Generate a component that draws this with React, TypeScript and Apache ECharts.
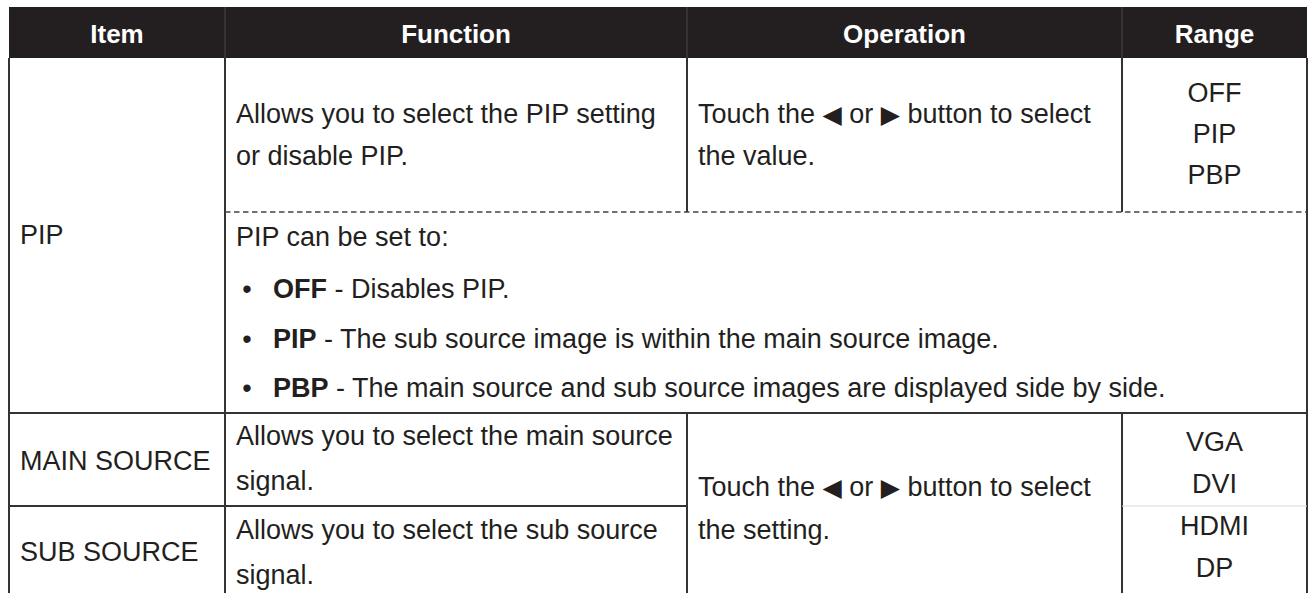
import React, { useEffect, useRef } from "react";
import * as echarts from "echarts";

// ---- content ----
const HEADERS = ["Item", "Function", "Operation", "Range"];
const ITEMS = ["PIP", "MAIN SOURCE", "SUB SOURCE"];
const PIP_FUNCTION = ["Allows you to select the PIP setting", "or disable PIP."];
const PIP_OPERATION = ["Touch the {t|◀} or {t|▶} button to select", "the value."];
const PIP_RANGE = ["OFF", "PIP", "PBP"];
const PIP_NOTE = "PIP can be set to:";
const PIP_OPTION_LABELS = ["OFF", "PIP", "PBP"];
const PIP_OPTION_TEXTS = [
  "Disables PIP.",
  "The sub source image is within the main source image.",
  "The main source and sub source images are displayed side by side.",
];
const MAIN_FUNCTION = ["Allows you to select the main source", "signal."];
const SUB_FUNCTION = ["Allows you to select the sub source", "signal."];
const SOURCE_OPERATION = ["Touch the {t|◀} or {t|▶} button to select", "the setting."];
const SOURCE_RANGE = ["VGA", "DVI", "HDMI", "DP"];

// ---- layout ----
const COLS = [9, 225, 687, 1122, 1307];
const HEAD_TOP = 7;
const HEAD_BOT = 58;
const DASH_Y = 212;
const ROW2_Y = 413;
const ROW3_Y = 506;
const BOTTOM = 600;
const FONT = '"Liberation Sans", Arial, Helvetica, sans-serif';
const FS = 27;
const INK = "#231f20";
const LINE = "#333";

function txt(x: number, y: number, text: string, align = "left", extra: any = {}) {
  return {
    type: "text",
    x,
    y,
    style: {
      text,
      fill: INK,
      fontSize: FS,
      fontFamily: FONT,
      align,
      verticalAlign: "middle",
      rich: {
        t: { fontSize: 25, fontFamily: '"DejaVu Sans", sans-serif', fill: INK },
        b: { fontSize: FS, fontFamily: FONT, fontWeight: "bold", fill: INK },
      },
      ...extra,
    },
  };
}

function line(x1: number, y1: number, x2: number, y2: number, style: any = {}) {
  return {
    type: "line",
    shape: { x1, y1, x2, y2 },
    style: { stroke: LINE, lineWidth: 2, ...style },
  };
}

export default function App() {
  const ref = useRef<HTMLDivElement>(null);
  useEffect(() => {
    if (!ref.current) return;
    const chart = echarts.init(ref.current, null, { renderer: "svg" });
    const els: any[] = [];

    // header
    els.push({
      type: "rect",
      shape: { x: COLS[0], y: HEAD_TOP, width: COLS[4] - COLS[0], height: HEAD_BOT - HEAD_TOP },
      style: { fill: INK },
    });
    for (let i = 1; i < 4; i++) {
      els.push(line(COLS[i], HEAD_TOP, COLS[i], HEAD_BOT, { stroke: "#4a4647", lineWidth: 1 }));
    }
    HEADERS.forEach((h, i) => {
      els.push(
        txt((COLS[i] + COLS[i + 1]) / 2, (HEAD_TOP + HEAD_BOT) / 2 + 1, h, "center", {
          fill: "#ffffff",
          fontWeight: "bold",
          fontSize: 26,
        })
      );
    });

    // grid lines
    els.push(line(COLS[0], HEAD_BOT, COLS[0], BOTTOM));
    els.push(line(COLS[1], HEAD_BOT, COLS[1], BOTTOM));
    els.push(line(COLS[2], HEAD_BOT, COLS[2], DASH_Y));
    els.push(line(COLS[3], HEAD_BOT, COLS[3], DASH_Y));
    els.push(line(COLS[2], ROW2_Y, COLS[2], BOTTOM));
    els.push(line(COLS[3], ROW2_Y, COLS[3], BOTTOM));
    els.push(line(COLS[4], HEAD_BOT, COLS[4], BOTTOM));
    els.push(line(COLS[1], DASH_Y, COLS[4], DASH_Y, { stroke: "#444", lineWidth: 1.3, lineDash: [5.5, 3.5] }));
    els.push(line(COLS[0], ROW2_Y, COLS[4], ROW2_Y));
    els.push(line(COLS[0], ROW3_Y, COLS[2], ROW3_Y));
    els.push(line(COLS[3], ROW3_Y, COLS[4], ROW3_Y, { stroke: "#d8d8d8", lineWidth: 1 }));

    // PIP row (top)
    els.push(txt(20, 235, ITEMS[0]));
    PIP_FUNCTION.forEach((s, i) => els.push(txt(236, 114 + i * 42, s)));
    PIP_OPERATION.forEach((s, i) => els.push(txt(698, 114 + i * 42, s)));
    PIP_RANGE.forEach((s, i) => els.push(txt((COLS[3] + COLS[4]) / 2, 93 + i * 41, s, "center")));

    // PIP note + bullets
    els.push(txt(236, 237, PIP_NOTE));
    PIP_OPTION_LABELS.forEach((lab, i) => {
      const y = 289 + i * 49.5;
      els.push(txt(247, y, "•", "center"));
      els.push(txt(273, y, "{b|" + lab + "} - " + PIP_OPTION_TEXTS[i]));
    });

    // MAIN / SUB SOURCE
    els.push(txt(20, 461, ITEMS[1]));
    els.push(txt(20, 552, ITEMS[2]));
    MAIN_FUNCTION.forEach((s, i) => els.push(txt(236, 436 + i * 45, s)));
    SUB_FUNCTION.forEach((s, i) => els.push(txt(236, 530 + i * 45, s)));
    SOURCE_OPERATION.forEach((s, i) => els.push(txt(698, 487 + i * 43, s)));
    SOURCE_RANGE.forEach((s, i) =>
      els.push(txt((COLS[3] + COLS[4]) / 2, 442 + i * 42, s, "center"))
    );

    chart.setOption({
      animation: false,
      backgroundColor: "#ffffff",
      graphic: { elements: els },
    });
    return () => chart.dispose();
  }, []);

  return (
    <div
      ref={ref}
      style={{ position: "absolute", left: 0, top: 0, width: 1309, height: 593 }}
    />
  );
}
